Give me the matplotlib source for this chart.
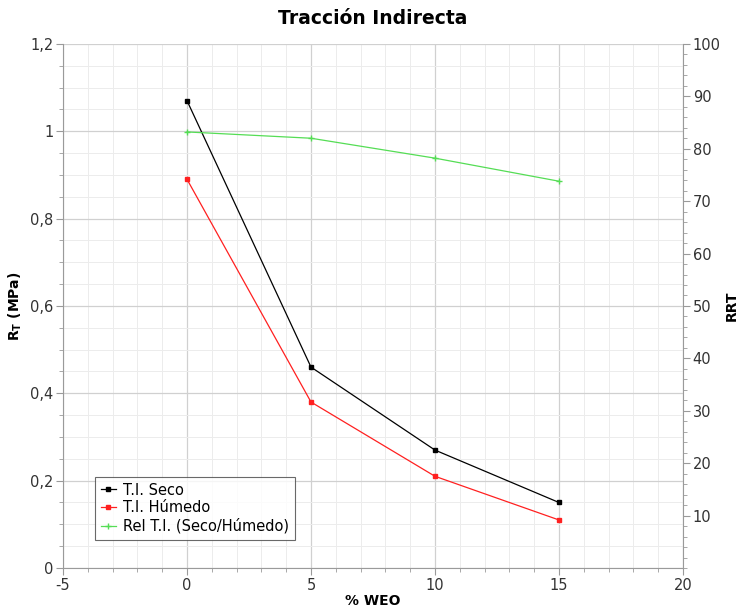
import numpy as np
import matplotlib.pyplot as plt
from matplotlib.ticker import MultipleLocator, FuncFormatter

# datos
weo = [0, 5, 10, 15]
ti_seco = [1.07, 0.46, 0.27, 0.15]
ti_humedo = [0.89, 0.38, 0.21, 0.11]
rel_ti = [83.2, 82.0, 78.2, 73.8]

titulo = "Tracción Indirecta"
etiquetas = ["T.I. Seco", "T.I. Húmedo", "Rel T.I. (Seco/Húmedo)"]

plt.rcParams["axes.unicode_minus"] = False

def coma(v, pos):
    s = ("%g" % round(v, 3))
    return s.replace(".", ",")

fig = plt.figure(figsize=(7.38, 6.13), dpi=100)
ax = fig.add_axes([0.0854, 0.0734, 0.84, 0.855])
ax2 = ax.twinx()

gris = "#9a9a9a"
l1, = ax.plot(weo, ti_seco, color="black", lw=0.9, marker="s", ms=3.5, label=etiquetas[0])
l2, = ax.plot(weo, ti_humedo, color="#ff2020", lw=0.9, marker="s", ms=3.5, label=etiquetas[1])
l3, = ax2.plot(weo, rel_ti, color="#55dd55", lw=0.9, marker="+", ms=4, label=etiquetas[2])

ax.set_xlim(-5, 20)
ax.set_ylim(0, 1.2)
ax2.set_ylim(0, 100)

ax.xaxis.set_major_locator(MultipleLocator(5))
ax.xaxis.set_minor_locator(MultipleLocator(1))
ax.yaxis.set_major_locator(MultipleLocator(0.2))
ax.yaxis.set_minor_locator(MultipleLocator(0.05))
ax.yaxis.set_major_formatter(FuncFormatter(coma))
ax2.yaxis.set_minor_locator(MultipleLocator(2))
ax2.set_yticks([10, 20, 30, 40, 50, 60, 70, 80, 90, 100])

ax.grid(which="major", color="#d0d0d0", lw=0.9)
ax.grid(which="minor", color="#ececec", lw=0.7)
ax.set_axisbelow(True)

for a in (ax, ax2):
    a.spines["top"].set_visible(False)
    for s in ("left", "right", "bottom"):
        a.spines[s].set_color(gris)
    a.tick_params(which="both", colors=gris, labelcolor="#333333", labelsize=10.5)
    a.tick_params(which="major", length=5, pad=2)
    a.tick_params(which="minor", length=3)
ax.spines["right"].set_visible(False)
ax2.spines["left"].set_visible(False)
ax2.spines["bottom"].set_visible(False)

ax.set_title(titulo, fontsize=13.5, fontweight="bold", pad=14)
ax.set_xlabel("% WEO", fontsize=10, fontweight="bold", labelpad=1)
ax.set_ylabel("R$_\\mathbf{T}$ (MPa)", fontsize=10, fontweight="bold", labelpad=4)
ax2.set_ylabel("RRT", fontsize=10, fontweight="bold", labelpad=3)

leg = ax.legend(handles=[l1, l2, l3], loc="lower left", bbox_to_anchor=(0.04, 0.04),
                fontsize=10.5, frameon=True, fancybox=False, handlelength=1.0,
                borderpad=0.4, labelspacing=0.2, handletextpad=0.5)
leg.get_frame().set_edgecolor("#444444")
leg.get_frame().set_linewidth(0.8)

fig.savefig("out.png", dpi=100)
